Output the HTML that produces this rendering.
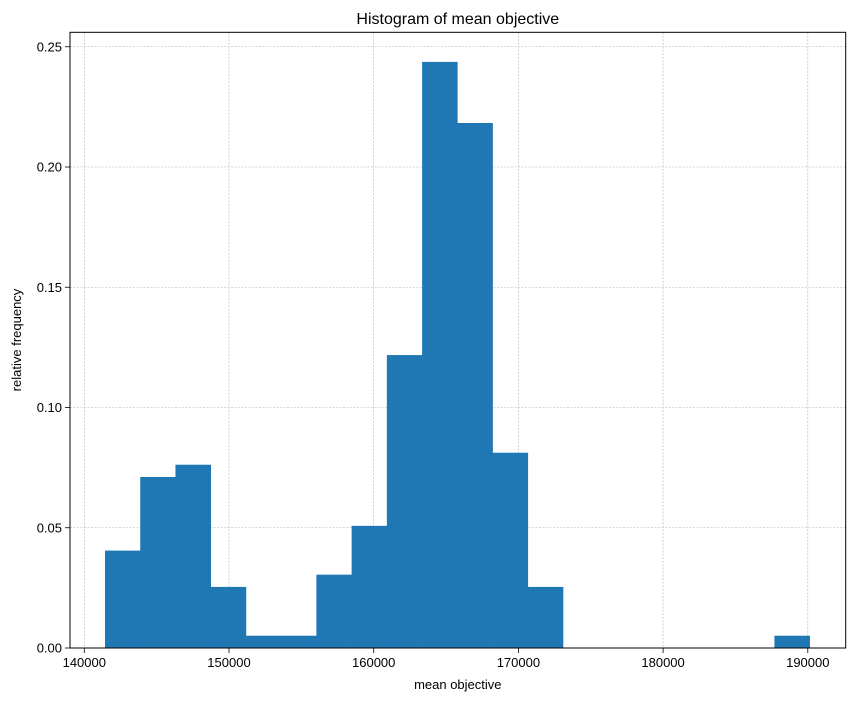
<!DOCTYPE html>
<html><head><meta charset="utf-8"><style>
body{margin:0;background:#fff;}
svg{display:block;font-family:"Liberation Sans","DejaVu Sans",sans-serif;}
</style></head><body>
<svg id="chart" width="855" height="701" xmlns="http://www.w3.org/2000/svg">
<text x="457.8" y="24" font-size="16" text-anchor="middle">Histogram of mean objective</text>
<g id="grid"></g>
<g id="bars"></g>
<g id="axes"></g>
<text x="457.8" y="689" font-size="13" text-anchor="middle">mean objective</text>
<text transform="translate(21,340) rotate(-90)" font-size="13" text-anchor="middle">relative frequency</text>
</svg>
<script>
const binStart = 141430;
const binWidth = 2435;
const frequencies = [0.0405,0.0711,0.0762,0.0254,0.0051,0.0051,0.0305,0.0508,0.1218,0.2437,0.2183,0.0812,0.0254,0,0,0,0,0,0,0.0051];
const xTicks = [140000,150000,160000,170000,180000,190000];
const xTickLabels = ["140000","150000","160000","170000","180000","190000"];
const yTicks = [0,0.05,0.1,0.15,0.2,0.25];
const yTickLabels = ["0.00","0.05","0.10","0.15","0.20","0.25"];

const L=70,R=845.7,T=32.3,B=648;
const xs=v=>84.3+(v-140000)*144.7/10000;
const ys=v=>648-v*2405;
const NS="http://www.w3.org/2000/svg";
function mk(tag,attrs,parent,text){const e=document.createElementNS(NS,tag);for(const k in attrs)e.setAttribute(k,attrs[k]);if(text!==undefined)e.textContent=text;parent.appendChild(e);return e;}
const grid=document.getElementById('grid'),bars=document.getElementById('bars'),axes=document.getElementById('axes');
xTicks.forEach((t,i)=>{
  const x=xs(t);
  const g=mk('line',{x1:x,x2:x,y1:T,y2:B,stroke:'#b0b0b0','stroke-width':0.6,'stroke-dasharray':'2,1.5'},grid);
  
  
  const tk=mk('line',{x1:x,x2:x,y1:B,y2:B+5,stroke:'#000','stroke-width':0.8},axes);
  
  
  const lb=mk('text',{x:x,y:B+19,'font-size':13,'text-anchor':'middle'},axes,xTickLabels[i]);
  
  
});
yTicks.forEach((t,i)=>{
  const y=ys(t);
  const g=mk('line',{x1:L,x2:R,y1:y,y2:y,stroke:'#b0b0b0','stroke-width':0.6,'stroke-dasharray':'2,1.5'},grid);
  
  
  const tk=mk('line',{x1:L-5,x2:L,y1:y,y2:y,stroke:'#000','stroke-width':0.8},axes);
  
  
  const lb=mk('text',{x:L-8,y:y+4.5,'font-size':13,'text-anchor':'end'},axes,yTickLabels[i]);
  
  
});
frequencies.forEach((f,i)=>{
  if(f<=0)return;
  const x0=xs(binStart+i*binWidth),x1=xs(binStart+(i+1)*binWidth);
  const r=mk('rect',{x:x0,y:ys(f),width:x1-x0+0.3,height:B-ys(f),fill:'#1f77b4'},bars);
  
  
});
const frame=mk('rect',{x:L,y:T,width:R-L,height:B-T,fill:'none',stroke:'#000','stroke-width':1},axes);


</script>
</body></html>
